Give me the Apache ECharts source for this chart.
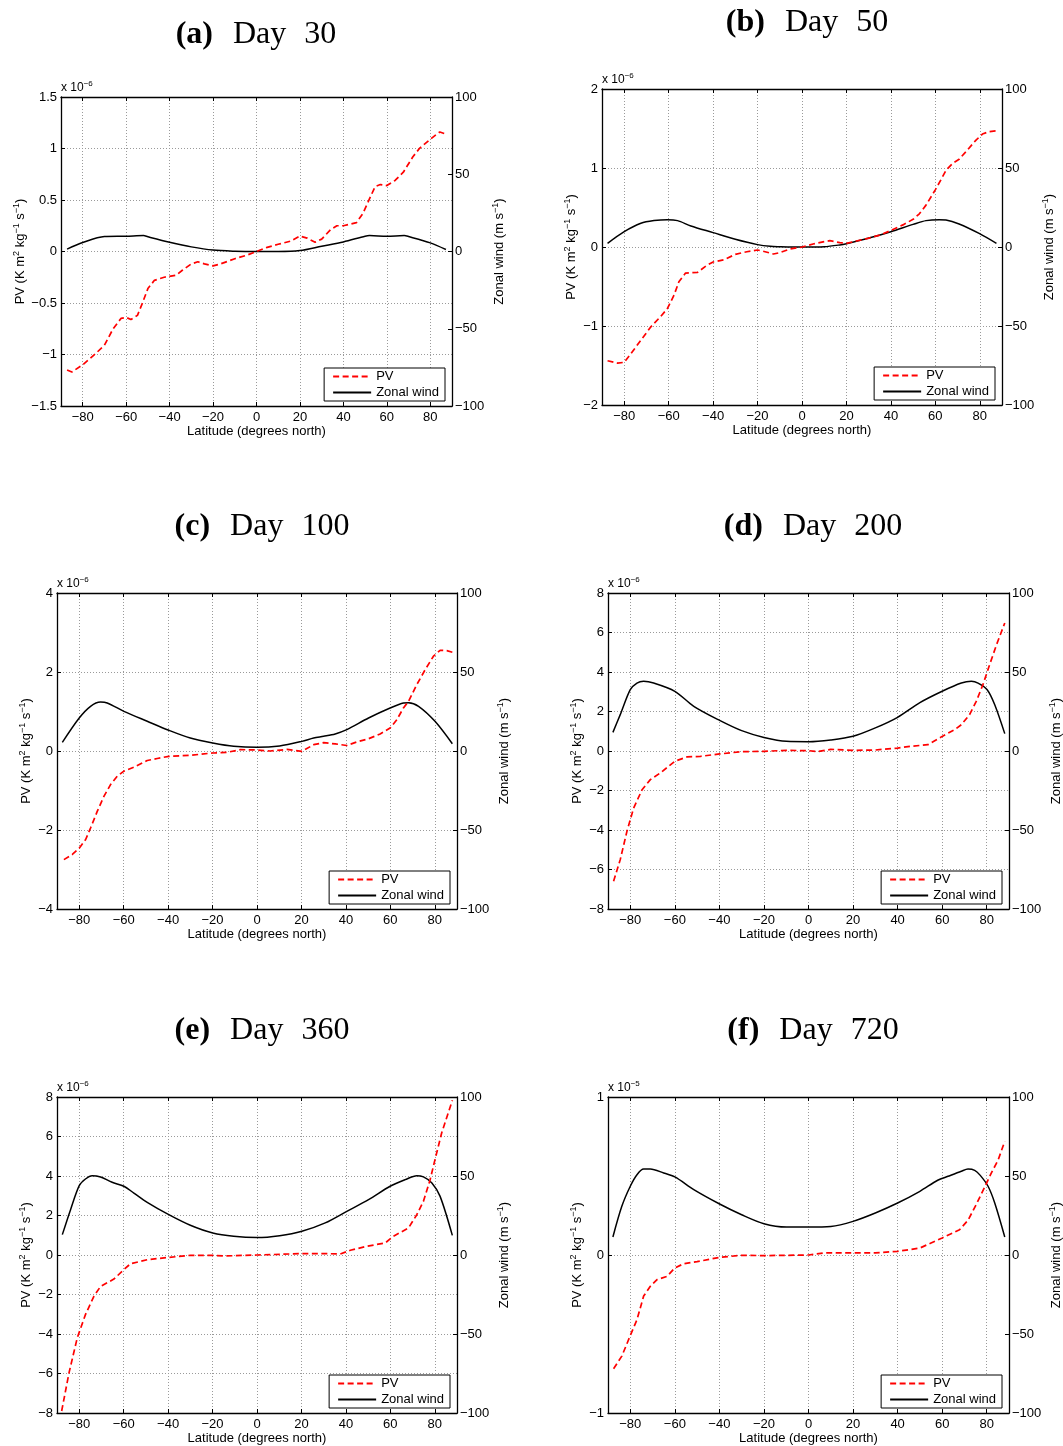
<!DOCTYPE html>
<html><head><meta charset="utf-8">
<script src="https://cdn.jsdelivr.net/npm/echarts@6/dist/echarts.min.js"></script>
<style>html,body{margin:0;padding:0;background:#fff}#c{width:1063px;height:1446px}</style>
</head><body><div id="c"></div>
<script>
// ---------- data ----------
const latTicks = [-80, -60, -40, -20, 0, 20, 40, 60, 80];
const panelLetters = ['(a)', '(b)', '(c)', '(d)', '(e)', '(f)'];
const dayTitles = ['Day', 'Day', 'Day', 'Day', 'Day', 'Day'];
const dayNumbers = ['30', '50', '100', '200', '360', '720'];
const pvExponents = ['−6', '−6', '−6', '−6', '−6', '−5'];
const pvMin = [-1.5, -2, -4, -8, -8, -1];
const pvMax = [1.5, 2, 4, 8, 8, 1];
const pvStep = [0.5, 1, 2, 2, 2, 1];
const windMin = -100, windMax = 100, windStep = 50;

// (a) Day 30
const latPvA = [-87.2,-85,-80,-74,-70,-66,-62.4,-60,-57.8,-54.8,-52.5,-50,-47,-42.5,-37,-34,-30,-27,-24,-20,-16.5,-10,-4.3,0,4.9,10,15.6,20,23.3,27,30,34,37,40,46,49,52,54.6,57,60,63.8,67.6,72,75,80,83,84.4,87.2];
const pvA = [-1.15,-1.17,-1.10,-0.99,-0.91,-0.75,-0.65,-0.64,-0.66,-0.62,-0.50,-0.36,-0.28,-0.25,-0.23,-0.18,-0.12,-0.10,-0.12,-0.14,-0.12,-0.07,-0.035,0,0.04,0.07,0.10,0.15,0.13,0.09,0.12,0.21,0.25,0.25,0.28,0.37,0.51,0.63,0.65,0.64,0.69,0.77,0.92,1.00,1.09,1.14,1.16,1.14];
const latWindA = [-87.2,-80,-70,-60,-52,-50,-40,-30,-20,-10,0,10,20,30,40,50,52,60,68,70,80,87.2];
const windA = [1.5,5.8,9.7,9.9,10.3,9.5,6,3,0.9,0.2,0,0,0.6,3.4,6.2,9.9,10.3,9.9,10.3,9.7,5.6,1.3];

// (b) Day 50
const latPvB = [-87.5,-83,-80,-77,-72.5,-68,-63.6,-60.6,-57.6,-55.4,-52.4,-47,-42.7,-40,-35,-30,-24.8,-20,-16.6,-12.8,-10,-5.4,0,5,10,12.5,17,20,24.5,29.7,35,40,45.4,50,52.8,55.8,59.9,62.5,64.8,67.8,70.7,74.5,78.2,81.2,84.2,87.5];
const pvB = [-1.44,-1.47,-1.46,-1.35,-1.18,-1.01,-0.88,-0.78,-0.61,-0.44,-0.33,-0.32,-0.23,-0.19,-0.16,-0.093,-0.06,-0.038,-0.06,-0.089,-0.072,-0.025,0,0.038,0.068,0.08,0.055,0.046,0.076,0.11,0.15,0.21,0.28,0.35,0.42,0.53,0.72,0.85,0.97,1.06,1.11,1.23,1.35,1.43,1.46,1.47];
const latWindB = [-87.5,-80,-72.5,-66.6,-60.6,-56,-50,-40,-30,-20,-14.3,-10,0,10,17,20,29.7,40,50,55.8,61.8,64.8,70.7,79.7,87.5];
const windB = [2.3,9.7,15,16.7,17.3,16.7,13.3,9.1,4.9,1.5,0.4,0.2,0,0.2,1.3,2.1,5.5,9.7,14.3,16.7,17.3,17.1,14.6,8.6,2.3];

// (c) Day 100
const latPvC = [-86.9,-83.1,-80,-77.1,-74.9,-71.9,-68.9,-65.9,-62.9,-59.9,-55.4,-49.4,-44.9,-39.7,-30,-19.9,-13.5,-7.5,0,6,13.5,20.2,25.5,30,35.2,40.4,45,50.2,55.4,59.9,62.9,65.9,68.2,71.9,75.7,79.4,82.4,85.4,87.9];
const pvC = [-2.75,-2.62,-2.46,-2.24,-1.95,-1.53,-1.15,-0.85,-0.64,-0.51,-0.41,-0.24,-0.19,-0.135,-0.11,-0.05,-0.034,0.034,0.025,0,0.04,-0.01,0.16,0.21,0.18,0.14,0.23,0.31,0.43,0.58,0.79,1.09,1.26,1.68,2.06,2.40,2.55,2.54,2.50];
const latWindC = [-87.6,-80,-74.9,-70.4,-67.4,-59.9,-49.4,-39.7,-30,-19.9,-10.5,0,10.2,20.2,25.5,30,35.2,40.4,50.2,59.9,65.9,68.2,72.7,80.1,87.9];
const windC = [5.5,20.9,28.3,31,30.4,25.1,18.8,13.1,8.2,5.1,3.0,2.3,3.2,6.1,8.2,9.3,10.8,13.5,20.9,27.2,30.4,30.6,28.3,18.8,4.6];

// (d) Day 200
const latPvD = [-87.5,-84.5,-81.5,-78.5,-74.7,-71,-66.5,-60,-54.5,-48.5,-39.9,-30,-20,-9.9,0,4,10,20,30,40,46,53.6,60,65.6,68.6,72.3,75.3,78.3,81.3,84.4,88.1];
const pvD = [-6.6,-5.5,-4.07,-2.89,-1.96,-1.45,-1.11,-0.52,-0.30,-0.27,-0.15,-0.034,-0.017,0.034,0.017,-0.034,0.084,0.034,0.05,0.15,0.24,0.32,0.74,1.08,1.33,1.84,2.51,3.36,4.37,5.38,6.48];
const latWindD = [-87.8,-84.5,-80,-77,-74,-69.5,-60,-51.5,-39.9,-30,-20,-9.9,0,10,20,30,40,50,60,68.6,73.1,76.1,80.2,83.6,88.1];
const windD = [11.8,23,38.8,43,44.1,43,37.8,28.3,19.4,12.9,8.6,6.1,5.9,7.0,9.3,14.6,21.3,30.6,37.8,43,44.1,43,38.8,29.3,11];

// (e) Day 360
const latPvE = [-87.9,-84.6,-80.9,-77.2,-73.4,-70.4,-64.4,-59.9,-56.9,-49.4,-39.7,-30,-19.9,-15,0,20.2,30.7,37.5,42,49.4,57.7,61.4,68.2,71.9,74.9,77.9,80.1,83.1,87.9];
const pvE = [-7.9,-5.97,-4.2,-3.02,-2.09,-1.59,-1.22,-0.74,-0.44,-0.24,-0.12,-0.017,-0.017,-0.05,0,0.07,0.07,0.05,0.24,0.44,0.61,0.95,1.37,2.04,2.72,3.81,4.83,6.18,7.83];
const latWindE = [-87.6,-83.9,-80,-77.2,-74.2,-70.4,-65.2,-59.9,-55.4,-49.4,-39.7,-30,-19.9,-10.5,0,10.2,20.2,30.7,40.4,50.2,59.9,66.7,71.9,74.9,78.7,82.4,87.9];
const windE = [12.9,28.7,43.9,48.1,50.2,49.4,46,43.5,39.2,33.3,25.5,18.8,13.9,11.8,11,12.2,15,20.3,27.6,35,43.5,47.7,50.2,49.4,45.6,37.1,12.4];

// (f) Day 720 (PV in units of 1e-5)
const latPvF = [-87.5,-83.8,-80,-77,-74,-71,-68,-63.5,-60,-56,-50,-39.9,-30,-20,-9.9,0,7,20,30,40,50,55,60,64,67.8,71.6,75.3,79.1,82.1,85.1,88.1];
const pvF = [-0.72,-0.64,-0.51,-0.41,-0.26,-0.198,-0.156,-0.135,-0.082,-0.055,-0.042,-0.015,-0.002,-0.004,-0.002,0,0.013,0.013,0.013,0.023,0.044,0.076,0.108,0.135,0.16,0.22,0.32,0.43,0.52,0.60,0.72];
const latWindF = [-87.8,-83.8,-80,-77,-74,-71,-65,-60,-51.5,-39.9,-30,-20,-9.9,0,10,20,30,40,50,58,62.6,68.6,71.6,74.6,77.1,80.6,83.6,88.1];
const windF = [11.4,30.8,43.5,50.8,54.4,54.4,51.9,49.4,41.4,32.3,25.5,19.8,17.7,17.7,18.1,21.3,26.6,32.9,40.3,47.3,49.8,53,54.4,53.6,50.4,43.5,32.9,11.4];

const latPv = [latPvA, latPvB, latPvC, latPvD, latPvE, latPvF];
const pvVals = [pvA, pvB, pvC, pvD, pvE, pvF];
const latWind = [latWindA, latWindB, latWindC, latWindD, latWindE, latWindF];
const windVals = [windA, windB, windC, windD, windE, windF];

// ---------- layout ----------
const W = 1063, H = 1446;
const layout = [
  {l: 61,  t: 97,   w: 391, h: 309, pvGap: 33, tx: 256, ty: 35},
  {l: 602, t: 89,   w: 400, h: 316, pvGap: 23, tx: 807, ty: 23},
  {l: 57,  t: 593,  w: 400, h: 316, pvGap: 23, tx: 262, ty: 527},
  {l: 608, t: 593,  w: 401, h: 316, pvGap: 23, tx: 813, ty: 527},
  {l: 57,  t: 1097, w: 400, h: 316, pvGap: 23, tx: 262, ty: 1031},
  {l: 608, t: 1097, w: 401, h: 316, pvGap: 23, tx: 813, ty: 1031}
];
const FONT = '"Liberation Sans", Arial, Helvetica, sans-serif';
const SERIF = '"Liberation Serif", "DejaVu Serif", serif';
const fmt = v => (Math.round(v * 1000) / 1000).toString().replace('-', '−');
const zip = (xs, ys) => xs.map((x, k) => [x, ys[k]]).filter(p => p[1] !== undefined);
const supRich = {s: {fontSize: 9, padding: [0, 0, 7, 0], fontFamily: FONT, color: '#000'}};
const nameStyle = {fontSize: 13, fontFamily: FONT, color: '#000', rich: supRich};
const axisLine = {show: true, onZero: false, lineStyle: {color: '#000', width: 1.3}};
const tickStyle = {color: '#000', width: 1};
const gridLine = {show: true, lineStyle: {color: '#9a9a9a', width: 1, type: [1, 2]}};
const labelStyle = {color: '#000', fontSize: 13, fontFamily: FONT};

const grid = [], xAxis = [], yAxis = [], series = [], legend = [], graphic = [];
layout.forEach((L, i) => {
  grid.push({left: L.l, top: L.t, width: L.w, height: L.h, containLabel: false, outerBoundsMode: 'none'});
  xAxis.push({
    gridIndex: i, type: 'value', min: -90, max: 90, position: 'bottom',
    axisLine: axisLine,
    axisTick: {show: true, inside: true, length: 4, customValues: latTicks, lineStyle: tickStyle},
    axisLabel: Object.assign({customValues: latTicks, formatter: fmt, margin: 5}, labelStyle),
    splitLine: gridLine,
    name: 'Latitude (degrees north)', nameLocation: 'middle', nameGap: 17, nameTextStyle: nameStyle
  });
  xAxis.push({
    gridIndex: i, type: 'value', min: -90, max: 90, position: 'top',
    axisLine: axisLine,
    axisTick: {show: true, inside: true, length: 4, customValues: latTicks, lineStyle: tickStyle},
    axisLabel: {show: false}, splitLine: {show: false}
  });
  yAxis.push({
    gridIndex: i, type: 'value', position: 'left', min: pvMin[i], max: pvMax[i], interval: pvStep[i],
    axisLine: axisLine,
    axisTick: {show: true, inside: true, length: 4, lineStyle: tickStyle},
    axisLabel: Object.assign({formatter: fmt, margin: 4}, labelStyle),
    splitLine: gridLine,
    name: 'PV (K m{s|2} kg{s|−1} s{s|−1})', nameLocation: 'middle', nameGap: L.pvGap, nameTextStyle: nameStyle
  });
  yAxis.push({
    gridIndex: i, type: 'value', position: 'right', min: windMin, max: windMax, interval: windStep,
    axisLine: axisLine,
    axisTick: {show: true, inside: true, length: 4, lineStyle: tickStyle},
    axisLabel: Object.assign({formatter: fmt, margin: 3}, labelStyle),
    splitLine: {show: false},
    name: 'Zonal wind (m s{s|−1})', nameLocation: 'middle', nameGap: 39, nameTextStyle: nameStyle
  });
  series.push({
    type: 'line', name: 'PV', xAxisIndex: 2 * i, yAxisIndex: 2 * i,
    data: zip(latPv[i], pvVals[i]), symbol: 'none', showSymbol: false,
    lineStyle: {color: '#ff0000', width: 1.7, type: [6, 3.5]}, itemStyle: {color: '#ff0000'}, z: 3
  });
  series.push({
    type: 'line', name: 'Zonal wind', xAxisIndex: 2 * i, yAxisIndex: 2 * i + 1,
    data: zip(latWind[i], windVals[i]), symbol: 'none', showSymbol: false, smooth: 0.3,
    lineStyle: {color: '#000', width: 1.5}, itemStyle: {color: '#000'}, z: 2
  });
  legend.push({
    data: ['PV', 'Zonal wind'], orient: 'vertical',
    right: W - (L.l + L.w - 7), bottom: H - (L.t + L.h - 5),
    itemWidth: 38, itemHeight: 12, itemGap: 3, padding: [2, 6, 2, 8],
    backgroundColor: '#fff', borderColor: '#000', borderWidth: 1, borderRadius: 0,
    itemStyle: {color: 'rgba(0,0,0,0)', borderWidth: 0, opacity: 0},
    textStyle: {fontSize: 13, color: '#000', fontFamily: FONT}, selectedMode: false, z: 10
  });
  graphic.push({
    type: 'text', x: L.tx, y: L.ty, z: 10,
    style: {
      text: '{b|' + panelLetters[i] + '}{r|' + dayTitles[i] + '}{n|' + dayNumbers[i] + '}',
      align: 'center', verticalAlign: 'middle', fill: '#000',
      rich: {
        b: {fontFamily: SERIF, fontSize: 32, fontWeight: 'bold', padding: [0, 20, 0, 0]},
        r: {fontFamily: SERIF, fontSize: 32, padding: [0, 18, 0, 0]},
        n: {fontFamily: SERIF, fontSize: 32}
      }
    }
  });
  graphic.push({
    type: 'text', x: L.l, y: L.t - 9, z: 10,
    style: {
      text: 'x 10{s|' + pvExponents[i] + '}', align: 'left', verticalAlign: 'middle', fill: '#000',
      fontFamily: FONT, fontSize: 12,
      rich: {s: {fontFamily: FONT, fontSize: 8, padding: [0, 0, 8, 0]}}
    }
  });
});

const chart = echarts.init(document.getElementById('c'), null, {renderer: 'canvas', width: W, height: H});
chart.setOption({
  animation: false, backgroundColor: '#fff',
  grid, xAxis, yAxis, series, legend, graphic
});
</script></body></html>
